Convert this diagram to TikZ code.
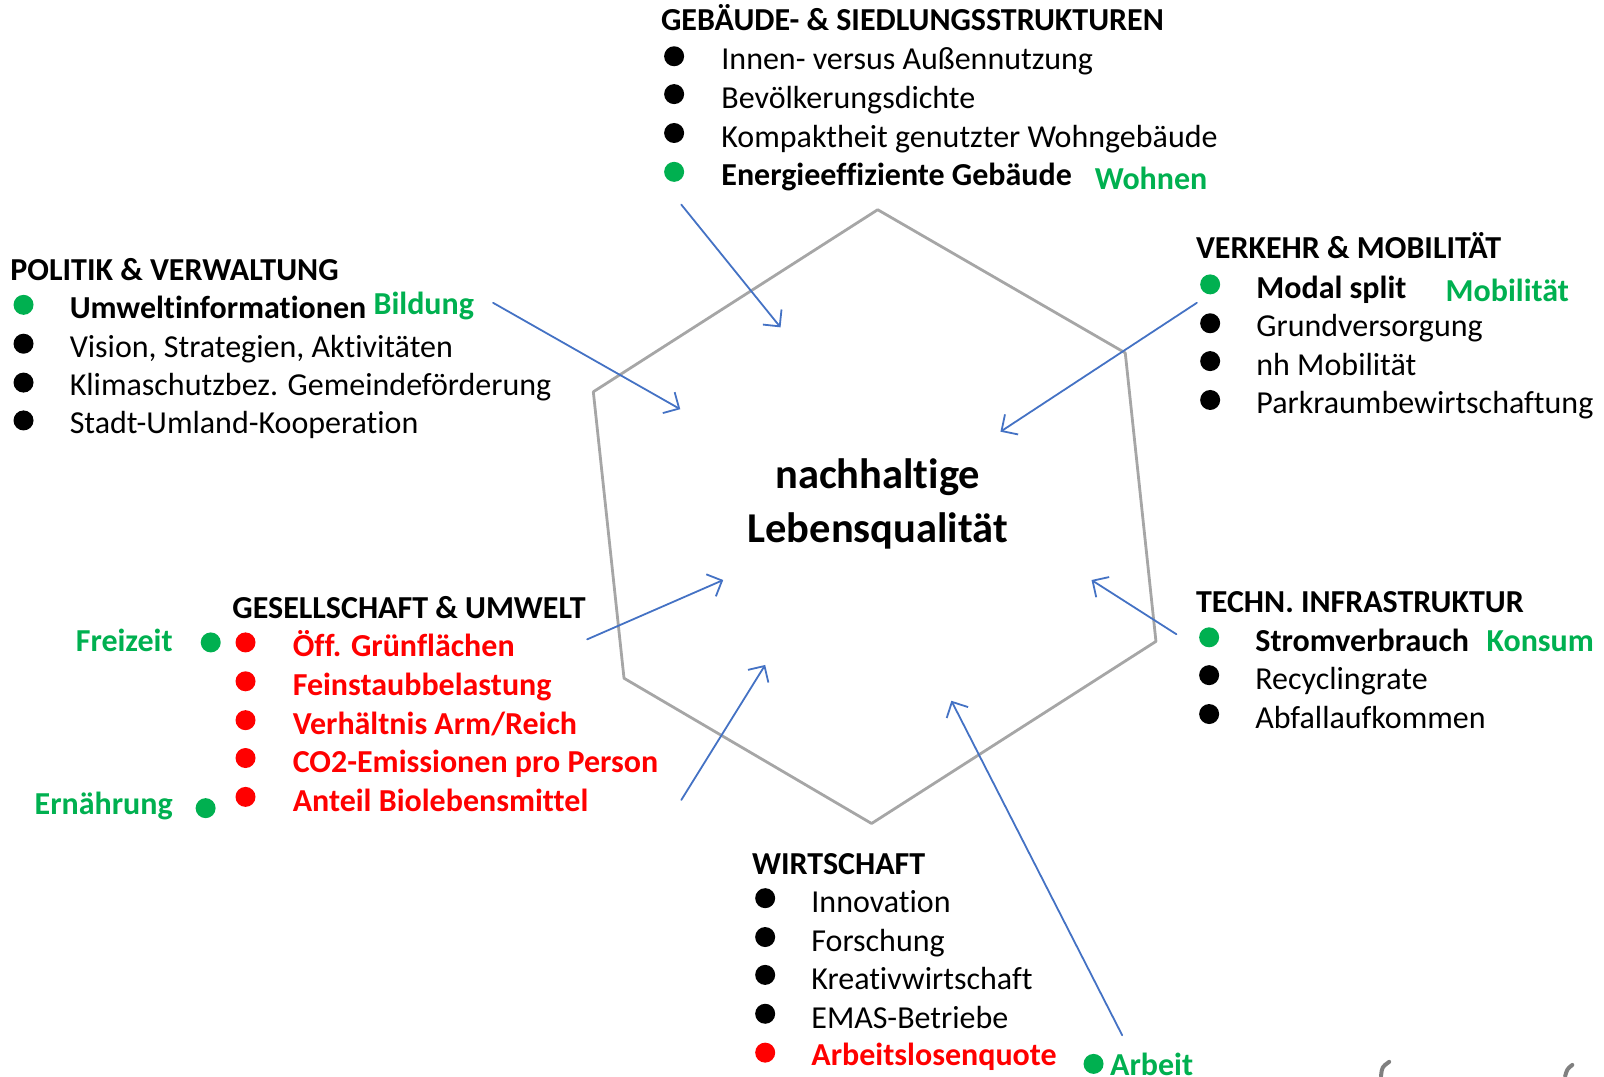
\documentclass[tikz,border=0pt]{standalone}
\usepackage{fontspec}
\setmainfont{Carlito}[Ligatures=NoCommon]
\usetikzlibrary{arrows.meta}
\definecolor{hexgrey}{HTML}{A6A6A6}
\definecolor{pfeilblau}{HTML}{4472C4}
\definecolor{gruen}{HTML}{00B050}
\definecolor{rot}{HTML}{FF0000}
\begin{document}
\begin{tikzpicture}[x=1.023pt,y=-1.023pt,line join=round,line cap=round,
  font=\fontsize{32}{38}\selectfont,
  head/.style={anchor=base west,inner sep=0pt,font=\fontsize{32}{38}\selectfont\bfseries},
  item/.style={anchor=base west,inner sep=0pt},
  gruentxt/.style={inner sep=0pt,text=gruen,font=\fontsize{32}{38}\selectfont\bfseries},
  rottxt/.style={item,text=rot,font=\fontsize{32}{38}\selectfont\bfseries},
  punkt/.style={circle,fill=black,inner sep=0pt,minimum size=20pt},
  pfeil/.style={pfeilblau,line width=1.8pt,-{Straight Barb[length=12pt,width=24pt]}}]
\useasboundingbox (0,0) rectangle (1568,1052);
% Sechseck
\draw[hexgrey,line width=2.8pt] (858,205)--(1100,345)--(1130,627)--(852,805)--(610,663)--(580,383)--cycle;
\node[font=\fontsize{42.5}{50}\selectfont\bfseries,anchor=base,inner sep=0pt] (mitte1) at (858,478) {nachhaltige};
\node[font=\fontsize{42.5}{50}\selectfont\bfseries,anchor=base,inner sep=0pt] (mitte2) at (858,530) {Lebensqualität};
% Gebaeude
\node[head] (gebH) at (646,30) {GEBÄUDE- \& SIEDLUNGSSTRUKTUREN};
\foreach \y/\n in {55/1,92/2,130/3} \node[punkt] (gebP\n) at (659,\y) {};
\node[punkt,fill=gruen] (gebP4) at (659,168) {};
\node[item] (geb1) at (705,68) {Innen- versus Außennutzung};
\node[item] (geb2) at (705,106) {Bevölkerungsdichte};
\node[item] (geb3) at (705,144) {Kompaktheit genutzter Wohngebäude};
\node[item,font=\fontsize{32}{38}\selectfont\bfseries] (geb4) at (705,181) {Energieeffiziente Gebäude};
\node[gruentxt,anchor=base west] (wohnen) at (1070,185) {Wohnen};
% Politik
\node[head] (polH) at (10,274) {POLITIK \& VERWALTUNG};
\node[punkt,fill=gruen] (polP1) at (23,298) {};
\foreach \y/\n in {336/2,374/3,411/4} \node[punkt] (polP\n) at (23,\y) {};
\node[item,font=\fontsize{32}{38}\selectfont\bfseries] (pol1) at (68,311) {Umweltinformationen};
\node[gruentxt,anchor=base west] (bildung) at (365,307) {Bildung};
\node[item] (pol2) at (68,349) {Vision, Strategien, Aktivitäten};
\node[item] (pol3) at (68,387) {Klimaschutzbez. Gemeindeförderung};
\node[item] (pol4) at (68,424) {Stadt-Umland-Kooperation};
% Verkehr
\node[head] (verH) at (1169,253) {VERKEHR \& MOBILITÄT};
\node[punkt,fill=gruen] (verP1) at (1183,278) {};
\foreach \y/\n in {316/2,353/3,391/4} \node[punkt] (verP\n) at (1183,\y) {};
\node[item,font=\fontsize{32}{38}\selectfont\bfseries] (ver1) at (1228,292) {Modal split};
\node[gruentxt,anchor=base west] (mobil) at (1413,295) {Mobilität};
\node[item] (ver2) at (1228,329) {Grundversorgung};
\node[item] (ver3) at (1228,367) {nh Mobilität};
\node[item] (ver4) at (1228,404) {Parkraumbewirtschaftung};
% Techn. Infrastruktur
\node[head] (tecH) at (1169,599) {TECHN. INFRASTRUKTUR};
\node[punkt,fill=gruen] (tecP1) at (1182,623) {};
\foreach \y/\n in {660/2,698/3} \node[punkt] (tecP\n) at (1182,\y) {};
\node[item,font=\fontsize{32}{38}\selectfont\bfseries] (tec1) at (1227,637) {Stromverbrauch};
\node[gruentxt,anchor=base west] (konsum) at (1453,637) {Konsum};
\node[item] (tec2) at (1227,674) {Recyclingrate};
\node[item] (tec3) at (1227,712) {Abfallaufkommen};
% Gesellschaft
\node[head] (gesH) at (227,605) {GESELLSCHAFT \& UMWELT};
\foreach \y/\n in {628/1,666/2,704/3,741/4,779/5} \node[punkt,fill=rot] (gesP\n) at (240,\y) {};
\node[rottxt] (ges1) at (286,642) {Öff. Grünflächen};
\node[rottxt] (ges2) at (286,680) {Feinstaubbelastung};
\node[rottxt] (ges3) at (286,718) {Verhältnis Arm/Reich};
\node[rottxt] (ges4) at (286,755) {CO2-Emissionen pro Person};
\node[rottxt] (ges5) at (286,793) {Anteil Biolebensmittel};
\node[punkt,fill=gruen] (freiP) at (206,628) {};
\node[gruentxt,anchor=base east] (freizeit) at (169,637) {Freizeit};
\node[punkt,fill=gruen] (ernP) at (201,790) {};
\node[gruentxt,anchor=base east] (ernaehrung) at (169,796) {Ernährung};
% Wirtschaft
\node[head] (wirH) at (735,855) {WIRTSCHAFT};
\foreach \y/\n in {878/1,916/2,953/3,991/4} \node[punkt] (wirP\n) at (748,\y) {};
\node[punkt,fill=rot] (wirP5) at (748,1029) {};
\node[item] (wir1) at (793,892) {Innovation};
\node[item] (wir2) at (793,930) {Forschung};
\node[item] (wir3) at (793,967) {Kreativwirtschaft};
\node[item] (wir4) at (793,1005) {EMAS-Betriebe};
\node[rottxt] (wir5) at (793,1042) {Arbeitslosenquote};
\node[punkt,fill=gruen] (arbP) at (1069,1040) {};
\node[gruentxt,anchor=base west] (arbeit) at (1085,1051) {Arbeit};
% Pfeile
\coordinate (gebA) at (666,200); \coordinate (gebB) at (763,320);
\coordinate (polA) at (482,296); \coordinate (polB) at (665,400);
\coordinate (verA) at (1170,296); \coordinate (verB) at (978,422);
\coordinate (tecA) at (1150,620); \coordinate (tecB) at (1067,567);
\coordinate (gesA) at (574,625); \coordinate (gesB) at (707,567);
\coordinate (ernA) at (666,782); \coordinate (ernB) at (748,650);
\coordinate (wirA) at (1097,1012); \coordinate (wirB) at (930,685);
\foreach \s in {geb,pol,ver,tec,ges,ern,wir} \draw[pfeil] (\s A) -- (\s B);
% Reste unten rechts
\draw[gray,line width=4pt] (1358,1038) .. controls (1351,1043) .. (1350,1052);
\draw[gray,line width=4pt] (1537,1041) .. controls (1532,1045) .. (1530,1052);
\end{tikzpicture}
\end{document}
